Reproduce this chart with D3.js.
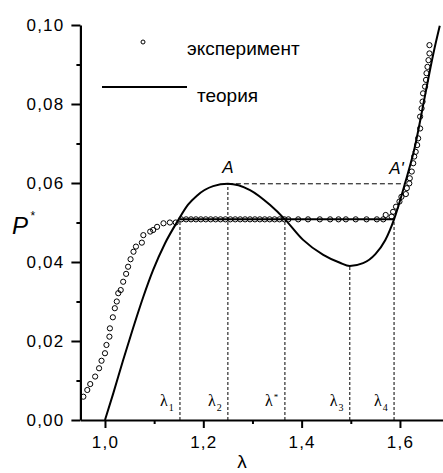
<!DOCTYPE html>
<html>
<head>
<meta charset="utf-8">
<script src="https://cdn.jsdelivr.net/npm/d3@7"></script>
<style>
  html, body { margin: 0; padding: 0; background: #fff; }
  svg { display: block; font-family: "Liberation Sans", Arial, sans-serif; }
</style>
</head>
<body>
<div id="chart"></div>
<script>
// ============================================================================
// data
// ============================================================================

// theory curve
const theoryLambda = [1.000, 1.017, 1.037, 1.058, 1.078, 1.098, 1.122, 1.149, 1.169, 1.187,
                      1.220, 1.250, 1.295, 1.336, 1.366, 1.403, 1.444, 1.478, 1.498, 1.525,
                      1.550, 1.570, 1.588, 1.610, 1.630, 1.650, 1.668, 1.681];
const theoryP = [0.0000, 0.0068, 0.0152, 0.0236, 0.0312, 0.0380, 0.0447, 0.0506, 0.0545, 0.0568,
                 0.0592, 0.0598, 0.0582, 0.0544, 0.0508, 0.0456, 0.0418, 0.0398, 0.0390, 0.0397,
                 0.0420, 0.0455, 0.0508, 0.0598, 0.0690, 0.0815, 0.0928, 0.0998];

// experiment points
const expLambda = [0.956, 0.964, 0.970, 0.980, 0.988, 0.993, 1.000, 1.003, 1.009, 1.010,
                   1.016, 1.020, 1.024, 1.027, 1.032, 1.037, 1.043, 1.047, 1.052, 1.058,
                   1.063, 1.075, 1.078, 1.092, 1.098, 1.106, 1.119, 1.132, 1.144,
                   1.155, 1.165, 1.175, 1.185, 1.195, 1.205, 1.215, 1.225, 1.235, 1.245,
                   1.255, 1.265, 1.275, 1.285, 1.295, 1.305, 1.315, 1.325, 1.335, 1.345,
                   1.355, 1.365, 1.373, 1.393, 1.413, 1.437, 1.458, 1.475, 1.490, 1.510,
                   1.532, 1.553, 1.566, 1.571, 1.583, 1.586, 1.592, 1.599, 1.603, 1.612,
                   1.614, 1.619, 1.620, 1.624, 1.627, 1.629, 1.632, 1.635, 1.637, 1.641,
                   1.641, 1.644, 1.646, 1.647, 1.651, 1.653, 1.654, 1.656, 1.658, 1.660, 1.660];
const expP = [0.0059, 0.0076, 0.0091, 0.0110, 0.0131, 0.0150, 0.0169, 0.0190, 0.0211, 0.0232,
              0.0260, 0.0283, 0.0300, 0.0321, 0.0329, 0.0350, 0.0370, 0.0388, 0.0407, 0.0426,
              0.0439, 0.0449, 0.0468, 0.0477, 0.0481, 0.0489, 0.0498, 0.0500, 0.0500,
              0.0508, 0.0508, 0.0508, 0.0508, 0.0508, 0.0508, 0.0508, 0.0508, 0.0508, 0.0508,
              0.0508, 0.0508, 0.0508, 0.0508, 0.0508, 0.0508, 0.0508, 0.0508, 0.0508, 0.0508,
              0.0508, 0.0508, 0.0508, 0.0508, 0.0508, 0.0508, 0.0508, 0.0508, 0.0508, 0.0508,
              0.0508, 0.0508, 0.0508, 0.0519, 0.0515, 0.0527, 0.0540, 0.0553, 0.0565, 0.0572,
              0.0587, 0.0599, 0.0612, 0.0629, 0.0650, 0.0667, 0.0679, 0.0696, 0.0713, 0.0738,
              0.0768, 0.0789, 0.0806, 0.0827, 0.0844, 0.0861, 0.0878, 0.0894, 0.0911, 0.0928, 0.0949];

// Maxwell plateau
const plateauLambda = [1.1525, 1.588];
const plateauP = 0.0508;

// marked points (dashed drop lines)
const markLambda = [1.1525, 1.250, 1.366, 1.498, 1.588];
const markTop    = [0.0508, 0.0598, 0.0508, 0.0390, 0.0508];
const markName   = ["1", "2", "*", "3", "4"];

// A - A' line
const pointA = [1.250, 0.0598];
const pointA2 = [1.610, 0.0598];

// axes
const xTicks = [1.0, 1.2, 1.4, 1.6];
const xMinor = [1.1, 1.3, 1.5];
const yTicks = [0.00, 0.02, 0.04, 0.06, 0.08, 0.10];
const yMinor = [0.01, 0.03, 0.05, 0.07, 0.09];

const legendLabels = ["эксперимент", "теория"];

// ============================================================================
// drawing
// ============================================================================

const width = 443, height = 473;

const svg = d3.select("#chart").append("svg")
    .attr("width", width)
    .attr("height", height);

const x = d3.scaleLinear().domain([0.95, 1.69]).range([80.4, 444.2]);
const y = d3.scaleLinear().domain([0, 0.10]).range([420, 25]);

const comma = d => d3.format(d < 0.5 ? ".2f" : ".1f")(d).replace(".", ",");

// minor ticks first
svg.append("g")
    .attr("transform", `translate(0,${y(0)})`)
    .call(d3.axisBottom(x).tickValues(xMinor).tickSize(4).tickFormat(""))
    .call(g => g.select(".domain").remove())
    .call(g => g.selectAll("line").attr("stroke-width", 2));

svg.append("g")
    .attr("transform", `translate(${x(0.95)},0)`)
    .call(d3.axisLeft(y).tickValues(yMinor).tickSize(4).tickFormat(""))
    .call(g => g.select(".domain").remove())
    .call(g => g.selectAll("line").attr("stroke-width", 2));

// major axes
const xAxis = svg.append("g")
    .attr("transform", `translate(0,${y(0)})`)
    .call(d3.axisBottom(x).tickValues(xTicks).tickSize(8).tickSizeOuter(0).tickPadding(8).tickFormat(comma));

const yAxis = svg.append("g")
    .attr("transform", `translate(${x(0.95)},0)`)
    .call(d3.axisLeft(y).tickValues(yTicks).tickSize(9).tickSizeOuter(0).tickPadding(7).tickFormat(comma));

[xAxis, yAxis].forEach(g => {
    g.select(".domain").attr("stroke-width", 2.2);
    g.selectAll(".tick line").attr("stroke-width", 2);
    g.selectAll("text")
        .attr("font-family", "Liberation Sans, Arial, sans-serif")
        .attr("font-size", 17)
        .attr("letter-spacing", 1.2)
        .attr("fill", "#000");
});

// axis titles
svg.append("text")
    .attr("x", 242).attr("y", 468)
    .attr("text-anchor", "middle")
    .attr("font-size", 19)
    .text("λ");

const pLabel = svg.append("text")
    .attr("x", 12).attr("y", 234)
    .attr("font-size", 24)
    .attr("font-style", "italic");
pLabel.append("tspan").text("P");
pLabel.append("tspan").attr("font-size", 12).attr("dx", 2).attr("dy", -14).text("*");

// dashed drop lines
svg.append("g")
    .attr("stroke", "#000")
    .attr("stroke-width", 1)
    .attr("stroke-dasharray", "3,2")
  .selectAll("line")
  .data(markLambda)
  .join("line")
    .attr("x1", d => x(d)).attr("x2", d => x(d))
    .attr("y1", y(0)).attr("y2", (d, i) => y(markTop[i]));

svg.append("line")
    .attr("x1", x(pointA[0])).attr("y1", y(pointA[1]))
    .attr("x2", x(pointA2[0])).attr("y2", y(pointA2[1]))
    .attr("stroke", "#000")
    .attr("stroke-width", 1)
    .attr("stroke-dasharray", "5,3");

// theory curve
const theory = theoryLambda.map((l, i) => [l, theoryP[i]]);
const line = d3.line()
    .x(d => x(d[0]))
    .y(d => y(d[1]))
    .curve(d3.curveMonotoneX);

svg.append("path")
    .datum(theory)
    .attr("fill", "none")
    .attr("stroke", "#000")
    .attr("stroke-width", 2)
    .attr("d", line);

// plateau
svg.append("line")
    .attr("x1", x(plateauLambda[0])).attr("x2", x(plateauLambda[1]))
    .attr("y1", y(plateauP)).attr("y2", y(plateauP))
    .attr("stroke", "#000")
    .attr("stroke-width", 2);

// experiment circles
svg.append("g")
    .attr("fill", "none")
    .attr("stroke", "#000")
    .attr("stroke-width", 1)
  .selectAll("circle")
  .data(expLambda.map((l, i) => [l, expP[i]]))
  .join("circle")
    .attr("cx", d => x(d[0]))
    .attr("cy", d => y(d[1]))
    .attr("r", 2.6);

// lambda labels (serif)
const lamLabels = svg.append("g")
    .attr("font-family", "Liberation Serif, Times New Roman, serif")
    .attr("font-size", 16);

lamLabels.selectAll("text")
  .data(markLambda)
  .join("text")
    .attr("x", d => x(d) - 20)
    .attr("y", 406)
    .each(function(d, i) {
        const t = d3.select(this);
        t.append("tspan").text("λ");
        if (markName[i] === "*") {
            t.append("tspan").attr("font-size", 9).attr("dx", 1).attr("dy", -6).text("*");
        } else {
            t.append("tspan").attr("font-size", 10).attr("dx", 1).attr("dy", 5).text(markName[i]);
        }
    });

// A, A' labels
svg.append("text")
    .attr("x", x(pointA[0])).attr("y", 173)
    .attr("text-anchor", "middle")
    .attr("font-size", 17)
    .attr("font-style", "italic")
    .text("A");

svg.append("text")
    .attr("x", x(pointA2[0]) - 1).attr("y", 174)
    .attr("text-anchor", "end")
    .attr("font-size", 17)
    .attr("font-style", "italic")
    .text("A'");

// legend
svg.append("circle")
    .attr("cx", 143).attr("cy", 42)
    .attr("r", 2)
    .attr("fill", "none")
    .attr("stroke", "#000");

svg.append("text")
    .attr("x", 187).attr("y", 55)
    .attr("font-size", 19)
    .text(legendLabels[0]);

svg.append("line")
    .attr("x1", 102).attr("x2", 187)
    .attr("y1", 87).attr("y2", 87)
    .attr("stroke", "#000")
    .attr("stroke-width", 2);

svg.append("text")
    .attr("x", 197).attr("y", 102)
    .attr("font-size", 19)
    .text(legendLabels[1]);
</script>
</body>
</html>
